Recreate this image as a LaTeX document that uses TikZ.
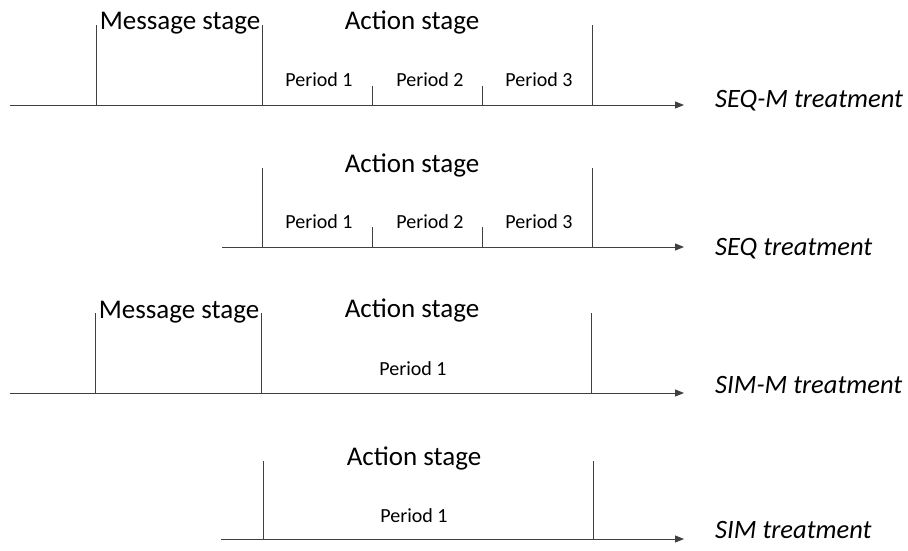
\documentclass[tikz,border=0pt]{standalone}
\usepackage{fontspec}
\setmainfont{Carlito}
\usetikzlibrary{arrows.meta}

\begin{document}
\begin{tikzpicture}[x=1pt,y=-1pt,
    axis/.style={draw=black!75,line width=0.9pt,-{Triangle[length=9pt,width=7pt]}},
    tick/.style={draw=black!75,line width=0.8pt},
    stage/.style={inner sep=0pt,anchor=base,font=\fontsize{27}{31}\selectfont},
    period/.style={inner sep=0pt,anchor=base,font=\fontsize{20}{24}\selectfont},
    treat/.style={inner sep=0pt,anchor=base west,font=\fontsize{26.5}{30}\selectfont\itshape}]

    % keep the page size of the reference
    \useasboundingbox (0,0) rectangle (908,551);

    % SEQ-M treatment
    \coordinate (seqmS) at (10,105);
    \coordinate (seqmE) at (684,105);
    \draw [axis] (seqmS) -- (seqmE);
    \foreach \x/\n in {96/a,262/b,592/c} {
      \coordinate (seqm\n) at (\x,105);
      \draw [tick] (seqm\n) -- ++(0,-80);
    }
    \foreach \x/\n in {372/p,482/q} {
      \coordinate (seqm\n) at (\x,105);
      \draw [tick] (seqm\n) -- ++(0,-19);
    }
    \node [stage] (seqmMsg) at (180,30) {Message stage};
    \node [stage] (seqmAct) at (412,30) {Action stage};
    \foreach \x/\p in {319/1,430/2,539/3}
      \node [period] (seqmP\p) at (\x,87) {Period \p};
    \node [treat] (seqmLbl) at (715,107) {SEQ-M treatment};

    % SEQ treatment
    \coordinate (seqS) at (222,247);
    \coordinate (seqE) at (684,247);
    \draw [axis] (seqS) -- (seqE);
    \foreach \x/\n in {262/b,592/c} {
      \coordinate (seq\n) at (\x,247);
      \draw [tick] (seq\n) -- ++(0,-79);
    }
    \foreach \x/\n in {372/p,482/q} {
      \coordinate (seq\n) at (\x,247);
      \draw [tick] (seq\n) -- ++(0,-20);
    }
    \node [stage] (seqAct) at (412,172) {Action stage};
    \foreach \x/\p in {319/1,430/2,539/3}
      \node [period] (seqP\p) at (\x,228) {Period \p};
    \node [treat] (seqLbl) at (715,255) {SEQ treatment};

    % SIM-M treatment
    \coordinate (simmS) at (10,393);
    \coordinate (simmE) at (684,393);
    \draw [axis] (simmS) -- (simmE);
    \foreach \x/\n in {95/a,261/b,591/c} {
      \coordinate (simm\n) at (\x,393);
      \draw [tick] (simm\n) -- ++(0,-80);
    }
    \node [stage] (simmMsg) at (179,318) {Message stage};
    \node [stage] (simmAct) at (412,317) {Action stage};
    \node [period] (simmP1) at (413,375) {Period 1};
    \node [treat] (simmLbl) at (715,393) {SIM-M treatment};

    % SIM treatment
    \coordinate (simS) at (221,539);
    \coordinate (simE) at (684,539);
    \draw [axis] (simS) -- (simE);
    \foreach \x/\n in {263/b,593/c} {
      \coordinate (sim\n) at (\x,539);
      \draw [tick] (sim\n) -- ++(0,-78);
    }
    \node [stage] (simAct) at (414,465) {Action stage};
    \node [period] (simP1) at (414,522) {Period 1};
    \node [treat] (simLbl) at (715,538) {SIM treatment};

\end{tikzpicture}
\end{document}
